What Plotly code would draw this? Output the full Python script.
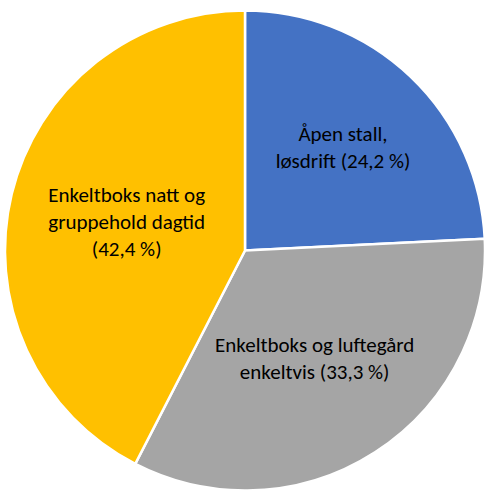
import plotly.graph_objects as go

labels = ["Åpen stall,<br>løsdrift (24,2 %)",
          "Enkeltboks og luftegård<br>enkeltvis (33,3 %)",
          "Enkeltboks natt og<br>gruppehold dagtid<br>(42,4 %)"]
values = [24.2, 33.3, 42.4]
colors = ["#4472C4", "#A5A5A5", "#FFC000"]

fig = go.Figure(go.Pie(
    labels=labels, values=values, sort=False, direction="clockwise", rotation=0,
    marker=dict(colors=colors, line=dict(color="white", width=2.5)),
    text=labels, textinfo="text", textposition="inside", insidetextorientation="horizontal",
    textfont=dict(family="Carlito, Lato, Liberation Sans, Arial", size=21, color="black"),
    hoverinfo="skip", showlegend=False,
))
fig.update_layout(width=485, height=491, margin=dict(l=5, r=0, t=10, b=0),
                  paper_bgcolor="white")
fig.write_html("out.html", config={"displayModeBar": False},
               post_script="document.body.style.margin='0px';")
